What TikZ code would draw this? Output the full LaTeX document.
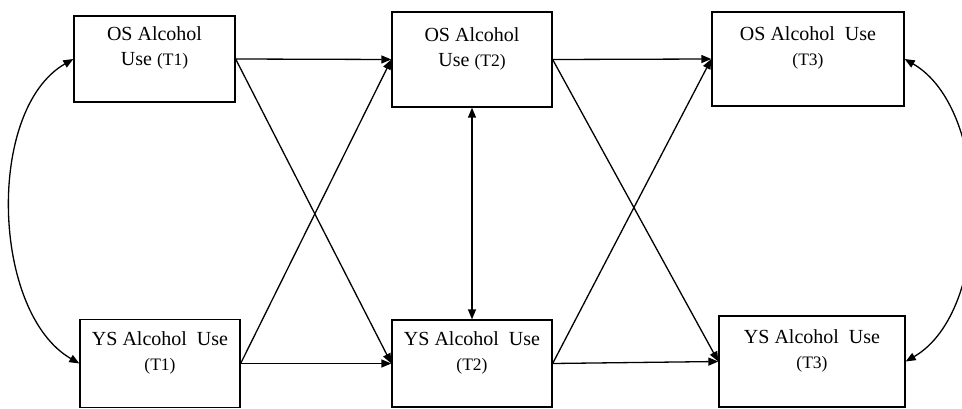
\documentclass[tikz,border=0pt]{standalone}
\usepackage{fontspec}
\setmainfont{Liberation Serif}
\usetikzlibrary{positioning,arrows.meta}
\tikzset{
    >={Triangle[length=10pt,width=8pt]},
    varbox/.style = {draw, line width=1.3pt, align=center, inner sep=0pt,
                     font=\fontsize{20}{25}\selectfont},
    link/.style = {->, line width=1.3pt},
}
\newcommand{\wave}[1]{{\fontsize{17.5}{25}\selectfont(#1)}}

\begin{document}
\begin{tikzpicture}[x=1pt, y=1pt]
    \clip (0,0) rectangle (962,-409);

    \node (os1) [varbox, minimum width=161pt, minimum height=86pt] at (154.5,-59)
        {OS Alcohol\\Use \wave{T1}\\\mbox{}};
    \node (os2) [varbox, minimum width=160pt, minimum height=95pt] at (472,-59.5)
        {OS Alcohol\\Use \wave{T2}\\\mbox{}};
    \node (os3) [varbox, minimum width=192pt, minimum height=94pt] at (808,-59)
        {OS Alcohol~ Use\\\wave{T3}\\\mbox{}};

    \node (ys1) [varbox, minimum width=160pt, minimum height=88pt] at (160,-363.5)
        {YS Alcohol~ Use\\\wave{T1}\\\mbox{}};
    \node (ys2) [varbox, minimum width=160pt, minimum height=87pt] at (472,-363.5)
        {YS Alcohol~ Use\\\wave{T2}\\\mbox{}};
    \node (ys3) [varbox, minimum width=186pt, minimum height=91pt] at (812,-361.5)
        {YS Alcohol~ Use\\\wave{T3}\\\mbox{}};

    % stability and cross-lagged paths
    \foreach \a/\b in {os1/os2, os1/ys2, ys1/os2, ys1/ys2,
                       os2/os3, os2/ys3, ys2/os3, ys2/ys3}
        \draw [link] (\a.east) -- (\b.west);

    % covariances
    \draw [link, <->] (os2.south) -- (ys2.north);
    \draw [link, <->] (os1.west) to [out=210, in=150, looseness=0.85] (ys1.west);
    \draw [link, <->] (os3.east) to [out=-30, in=30, looseness=0.85] (ys3.east);
\end{tikzpicture}
\end{document}
